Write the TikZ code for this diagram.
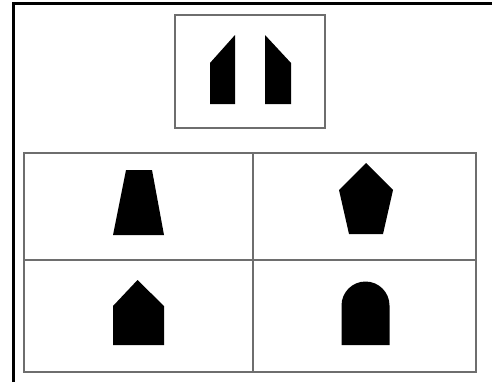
\documentclass[tikz,border=0pt]{standalone}
\usepackage{tikz}
\usetikzlibrary{positioning}
\definecolor{cFrame}{RGB}{110,110,110}

\begin{document}
\begin{tikzpicture}[
    x=0.02cm, y=-0.02cm,
    cell/.style={draw=cFrame,line width=1pt},
    piece/.style={fill=black},
    outer/.style={draw=black,line width=1.6pt}
  ]
  \useasboundingbox (0,0) rectangle (492,382);
  % Outer frame (only top and left visible)
  \draw[outer] (13.5,382) -- (13.5,3.5) -- (492,3.5);
  % Question box
  \draw[cell] (175,15) rectangle (325,128);
  \fill[piece] (210,104) -- (235,104) -- (235,35) -- (210,63) -- cycle;
  \fill[piece] (265,104) -- (291,104) -- (291,63) -- (265,35) -- cycle;
  % Answer grid
  \draw[cell] (24,153) rectangle (476,372);
  \draw[cell] (24,260) -- (476,260);
  \draw[cell] (253,153) -- (253,372);
  % Options
  \fill[piece] (113,235) -- (164,235) -- (152,170) -- (126,170) -- cycle;
  \fill[piece] (366,163) -- (393,190) -- (383,234) -- (349,234) -- (339,190) -- cycle;
  \fill[piece] (113,345) -- (164,345) -- (164,306) -- (137.5,280) -- (113,306) -- cycle;
  \fill[piece] (341.5,345) -- (389.5,345) -- (389.5,305.5) arc[start angle=0,end angle=-180,radius=24] -- cycle;
\end{tikzpicture}
\end{document}
